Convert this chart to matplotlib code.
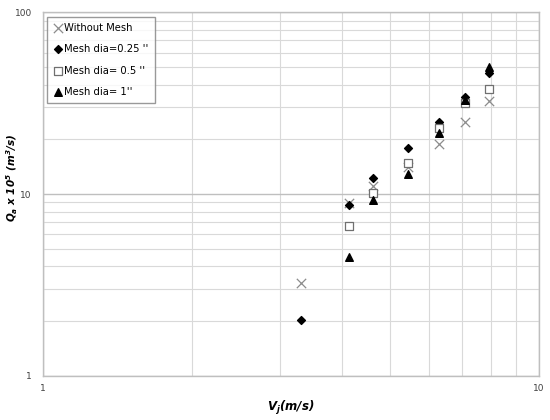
import matplotlib
matplotlib.use("Agg")
import matplotlib.pyplot as plt
from matplotlib.ticker import LogLocator, FixedLocator, NullFormatter, FixedFormatter

plt.rcParams['mathtext.fontset'] = 'custom'
plt.rcParams['mathtext.rm'] = 'DejaVu Sans:bold:italic'
plt.rcParams['mathtext.it'] = 'DejaVu Sans:bold:italic'
plt.rcParams['mathtext.bf'] = 'DejaVu Sans:bold:italic'

# Data
vj_without = [3.31, 4.14, 4.63, 5.44, 6.29, 7.09, 7.93]
q_without = [3.24, 8.96, 11.1, 14.0, 18.8, 25.0, 32.4]

vj_025 = [3.31, 4.14, 4.63, 5.44, 6.29, 7.09, 7.93]
q_025 = [2.03, 8.67, 12.2, 17.9, 24.9, 34.2, 46.4]

vj_05 = [4.14, 4.63, 5.44, 6.29, 7.09, 7.93]
q_05 = [6.67, 10.1, 14.9, 23.1, 31.5, 37.6]

vj_1 = [4.14, 4.63, 5.44, 6.29, 7.09, 7.93]
q_1 = [4.52, 9.27, 12.9, 21.7, 33.1, 49.7]

labels = ["Without Mesh", "Mesh dia=0.25 ''", "Mesh dia= 0.5 ''", "Mesh dia= 1''"]

fig = plt.figure(figsize=(5.5, 4.2), dpi=100)
ax = fig.add_axes([0.078, 0.105, 0.902, 0.866])
ax.set_xscale('log')
ax.set_yscale('log')
ax.set_xlim(1, 10)
ax.set_ylim(1, 100)

ax.scatter(vj_without, q_without, marker='x', s=45, color='#8c8c8c', linewidths=0.9, label=labels[0], zorder=3)
ax.scatter(vj_025, q_025, marker='D', s=16, color='black', label=labels[1], zorder=3)
ax.scatter(vj_05, q_05, marker='s', s=38, facecolors='white', edgecolors='#707070', linewidths=0.9, label=labels[2], zorder=3)
ax.scatter(vj_1, q_1, marker='^', s=30, color='black', label=labels[3], zorder=3)

ax.xaxis.set_major_locator(FixedLocator([1, 10]))
ax.xaxis.set_major_formatter(FixedFormatter(['1', '10']))
ax.xaxis.set_minor_locator(LogLocator(base=10, subs=range(2, 10)))
ax.xaxis.set_minor_formatter(NullFormatter())
ax.yaxis.set_major_locator(FixedLocator([1, 10, 100]))
ax.yaxis.set_major_formatter(FixedFormatter(['1', '10', '100']))
ax.yaxis.set_minor_locator(LogLocator(base=10, subs=range(2, 10)))
ax.yaxis.set_minor_formatter(NullFormatter())

ax.grid(True, which='major', color='#bfbfbf', linewidth=1.0)
ax.grid(True, which='minor', color='#d9d9d9', linewidth=0.8)
ax.set_axisbelow(True)
ax.tick_params(which='both', length=0, labelsize=6.5, colors='#404040')
ax.tick_params(axis='x', pad=6)
ax.tick_params(axis='y', pad=8)
for s in ax.spines.values():
    s.set_color('#bfbfbf')
    s.set_linewidth(1.0)

ax.set_xlabel(r"$V_j$(m/s)", fontsize=8.5, fontweight='bold', fontstyle='italic', labelpad=4)
ax.set_ylabel(r"$Q_a$ x 10$^5$ (m$^3$/s)", fontsize=7.5, fontweight='bold', fontstyle='italic')
ax.yaxis.set_label_coords(-0.047, 0.545)

leg = ax.legend(loc='upper left', bbox_to_anchor=(0.008, 0.988), prop={'size': 7.2}, frameon=True,
                fancybox=False, edgecolor='#808080', labelspacing=1.15, handletextpad=0.15,
                handlelength=1.0, borderpad=0.6, borderaxespad=0.0, scatterpoints=1)
leg.get_frame().set_linewidth(1.0)

fig.savefig("out.png", dpi=100)
